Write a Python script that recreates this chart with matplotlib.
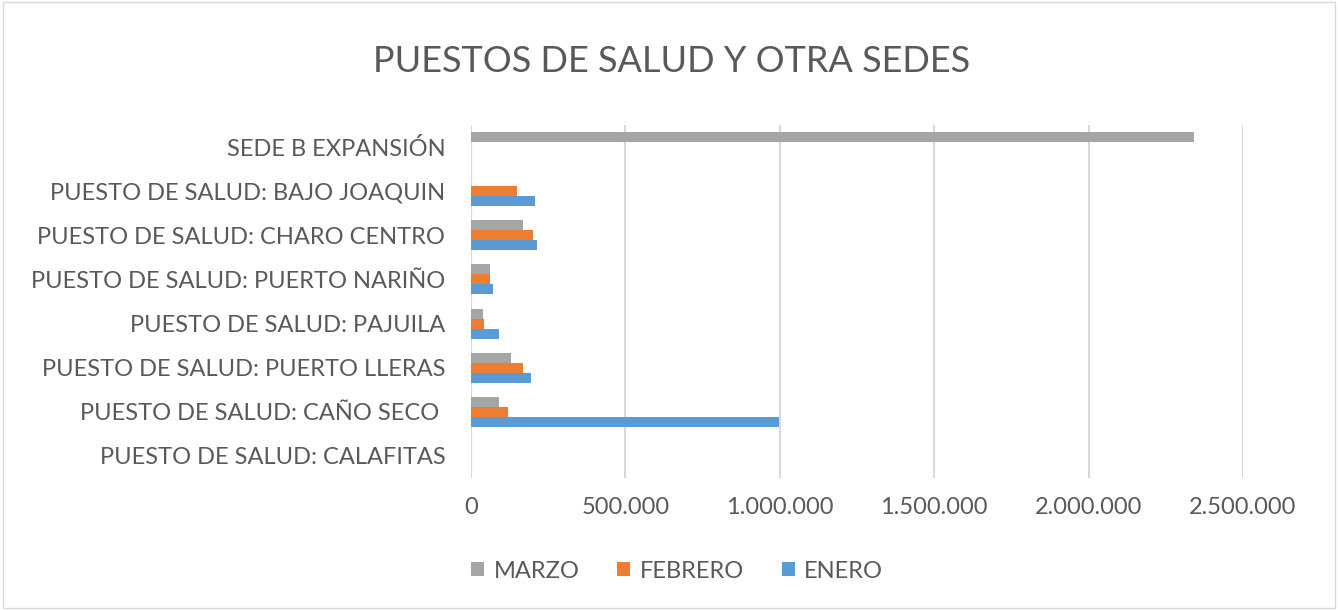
import matplotlib
matplotlib.use("Agg")
import matplotlib.pyplot as plt
from matplotlib.patches import Rectangle
import numpy as np

categories = [
    "PUESTO DE SALUD: CALAFITAS",
    "PUESTO DE SALUD: CAÑO SECO ",
    "PUESTO DE SALUD: PUERTO LLERAS",
    "PUESTO DE SALUD: PAJUILA",
    "PUESTO DE SALUD: PUERTO NARIÑO",
    "PUESTO DE SALUD: CHARO CENTRO",
    "PUESTO DE SALUD: BAJO JOAQUIN",
    "SEDE B EXPANSIÓN",
]
enero = [0, 997000, 193000, 91000, 72000, 215000, 207000, 0]
febrero = [0, 120000, 168000, 43000, 63000, 202000, 148000, 0]
marzo = [0, 92000, 130000, 38000, 63000, 168000, 0, 2340000]
series_names = ["ENERO", "FEBRERO", "MARZO"]
xticks = [0, 500000, 1000000, 1500000, 2000000, 2500000]

colors = {"ENERO": "#5B9BD5", "FEBRERO": "#ED7D31", "MARZO": "#A5A5A5"}
text_color = "#595959"
font = ["Lato", "DejaVu Sans"]
fs = 17

fig = plt.figure(figsize=(13.38, 6.10), dpi=100)
fig.patches.append(Rectangle((0.002, 0.003), 0.996, 0.994, transform=fig.transFigure,
                             fill=False, edgecolor="#D9D9D9", linewidth=1.0))
ax = fig.add_axes([471/1338, 1-478/610, (1243-471)/1338, (478-125)/610])

y = np.arange(len(categories))
h = 0.227
data = {"ENERO": enero, "FEBRERO": febrero, "MARZO": marzo}
offsets = {"ENERO": -h, "FEBRERO": 0, "MARZO": h}
handles = {}
for name in series_names:
    handles[name] = ax.barh(y + offsets[name], data[name], height=h,
                            color=colors[name], label=name, zorder=3)

ax.set_xlim(0, 2500000)
ax.set_ylim(-0.5, len(categories) - 0.5)
ax.set_xticks(xticks)
ax.set_xticklabels([f"{v:,}".replace(",", ".") for v in xticks],
                   fontsize=fs, color=text_color, family=font)
ax.set_yticks(y)
ax.set_yticklabels(categories, fontsize=fs, color=text_color, family=font)
ax.tick_params(axis="both", length=0)
ax.tick_params(axis="x", pad=14)
ax.tick_params(axis="y", pad=18.5)
for s in ax.spines.values():
    s.set_visible(False)
ax.grid(axis="x", color="#D9D9D9", linewidth=1.5, zorder=0)
ax.set_axisbelow(True)
ax.axvline(0, color="#D9D9D9", linewidth=1.5, zorder=1)

fig.text(672/1338, 1-62/610, "PUESTOS DE SALUD Y OTRA SEDES", ha="center", va="center",
         fontsize=26, color=text_color, family=font)

leg = fig.legend([handles["MARZO"], handles["FEBRERO"], handles["ENERO"]],
                 ["MARZO", "FEBRERO", "ENERO"], loc="center",
                 bbox_to_anchor=(677/1338, 1-571/610), ncol=3, frameon=False,
                 prop={"family": font, "size": fs}, handlelength=0.55, handleheight=0.55,
                 columnspacing=1.6, handletextpad=0.4)
for t in leg.get_texts():
    t.set_color(text_color)

fig.savefig("out.png", dpi=100)
